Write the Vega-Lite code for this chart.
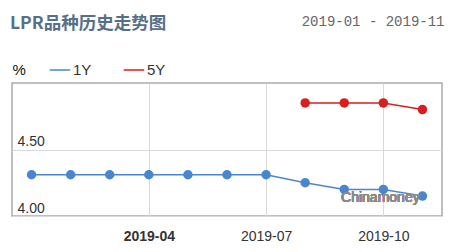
{
  "$schema": "https://vega.github.io/schema/vega-lite/v6.json",
  "width": 430,
  "height": 133,
  "autosize": {"type": "none"},
  "padding": {"left": 12, "top": 83, "right": 12, "bottom": 36},
  "background": "white",
  "title": {
    "text": "LPR品种历史走势图",
    "anchor": "start",
    "frame": "group",
    "font": "Noto Sans CJK SC",
    "fontSize": 17.5,
    "fontWeight": "bold",
    "color": "#56708a",
    "baseline": "alphabetic",
    "offset": 0,
    "dy": 32,
    "dx": -2
  },
  "config": {
    "view": {"stroke": "#aaaaaa", "strokeWidth": 1.5},
    "font": "Liberation Sans"
  },
  "data": {
    "values": [
      {"month": "2019-01", "series": "1Y", "value": 4.31},
      {"month": "2019-02", "series": "1Y", "value": 4.31},
      {"month": "2019-03", "series": "1Y", "value": 4.31},
      {"month": "2019-04", "series": "1Y", "value": 4.31},
      {"month": "2019-05", "series": "1Y", "value": 4.31},
      {"month": "2019-06", "series": "1Y", "value": 4.31},
      {"month": "2019-07", "series": "1Y", "value": 4.31},
      {"month": "2019-08", "series": "1Y", "value": 4.25},
      {"month": "2019-09", "series": "1Y", "value": 4.20},
      {"month": "2019-10", "series": "1Y", "value": 4.20},
      {"month": "2019-11", "series": "1Y", "value": 4.15},
      {"month": "2019-08", "series": "5Y", "value": 4.85},
      {"month": "2019-09", "series": "5Y", "value": 4.85},
      {"month": "2019-10", "series": "5Y", "value": 4.85},
      {"month": "2019-11", "series": "5Y", "value": 4.80}
    ]
  },
  "layer": [
    {
      "mark": {"type": "line", "strokeWidth": 1.5, "point": {"filled": true, "size": 90, "opacity": 1}},
      "encoding": {
        "x": {
          "field": "month",
          "type": "ordinal",
          "sort": ["2019-01","2019-02","2019-03","2019-04","2019-05","2019-06","2019-07","2019-08","2019-09","2019-10","2019-11"],
          "scale": {"type": "point", "padding": 0.5, "domain": ["2019-01","2019-02","2019-03","2019-04","2019-05","2019-06","2019-07","2019-08","2019-09","2019-10","2019-11"]},
          "axis": {
            "values": ["2019-04", "2019-07", "2019-10"],
            "grid": true,
            "gridColor": "#d9d9d9",
            "gridWidth": 1,
            "domain": false,
            "ticks": false,
            "labelAngle": 0,
            "labelPadding": 13,
            "labelFontSize": 14,
            "labelColor": "#333333",
            "labelFontWeight": {"condition": {"test": "datum.value === '2019-04'", "value": "bold"}, "value": "normal"},
            "title": "2019-01 - 2019-11",
            "titleFont": "Liberation Mono",
            "titleFontSize": 14,
            "titleFontWeight": "normal",
            "titleColor": "#666666",
            "titleAlign": "right",
            "titleAnchor": null,
            "titleBaseline": "middle",
            "titleX": 432,
            "titleY": -195
          }
        },
        "y": {
          "field": "value",
          "type": "quantitative",
          "scale": {"domain": [4, 5], "zero": false, "nice": false},
          "axis": {
            "values": [4, 4.5],
            "format": ".2f",
            "grid": true,
            "gridColor": "#d9d9d9",
            "domain": false,
            "ticks": false,
            "labelAlign": "left",
            "labelBaseline": "bottom",
            "labelPadding": -5,
            "labelOffset": -1,
            "labelFlush": false,
            "labelFontSize": 14,
            "labelColor": "#333333",
            "title": "%",
            "titleAngle": 0,
            "titleAlign": "left",
            "titleBaseline": "middle",
            "titleFontSize": 15,
            "titleFontWeight": "normal",
            "titleColor": "#111111",
            "titleAnchor": null,
            "titleX": 0,
            "titleY": -14
          }
        },
        "color": {
          "field": "series",
          "type": "nominal",
          "scale": {"domain": ["1Y", "5Y"], "range": ["#4a86cf", "#d91e1e"]},
          "legend": {
            "orient": "none",
            "legendX": 37,
            "legendY": -24,
            "direction": "horizontal",
            "title": null,
            "symbolType": "stroke",
            "symbolSize": 420,
            "symbolStrokeWidth": 1.5,
            "labelFontSize": 15,
            "labelColor": "#333333",
            "labelOffset": 2,
            "columnPadding": 28
          }
        }
      }
    },
    {
      "mark": {"type": "text", "text": "Chinamoney", "fontSize": 14, "color": "#8a8a8a", "align": "center", "baseline": "alphabetic", "dx": -3},
      "encoding": {
        "x": {"datum": "2019-10"},
        "y": {"datum": 4.105}
      }
    }
  ]
}
